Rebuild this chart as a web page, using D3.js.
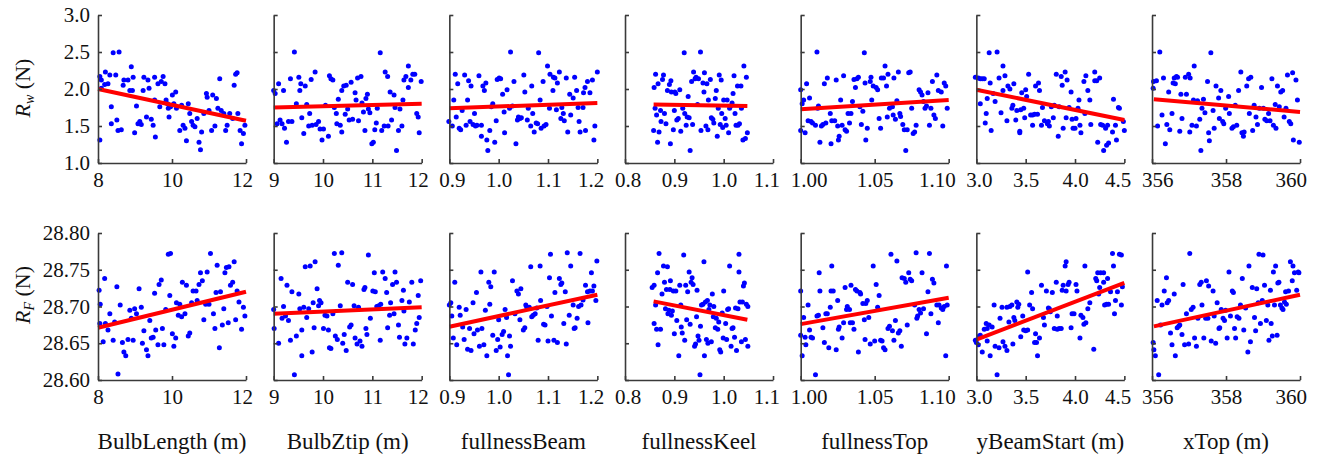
<!DOCTYPE html>
<html><head><meta charset="utf-8">
<script src="https://cdn.jsdelivr.net/npm/d3@7"></script>
<style>body{margin:0;background:#fff}svg{display:block}</style>
</head><body><svg id="chart" width="1322" height="458"></svg>
<script>
const variables = ["BulbLength (m)","BulbZtip (m)","fullnessBeam","fullnessKeel","fullnessTop","yBeamStart (m)","xTop (m)"];
const xDomains = [[8,12],[9,12],[0.9,1.2],[0.8,1.1],[1.0,1.1],[3.0,4.5],[356,360]];
const xTicks = [[8,10,12],[9,10,11,12],[0.9,1.0,1.1,1.2],[0.8,0.9,1.0,1.1],[1.00,1.05,1.10],[3.0,3.5,4.0,4.5],[356,358,360]];
const xTickFormats = ["d","d",".1f",".1f",".2f",".1f","d"];
const rwTicks = [1.0,1.5,2.0,2.5,3.0];
const rfTicks = [28.60,28.65,28.70,28.75,28.80];
const rwFitLines = [[8,2.0,12,1.57],[9,1.75,12,1.80],[0.9,1.74,1.2,1.81],[0.858,1.79,1.048,1.77],[1.0,1.725,1.1,1.85],[3.0,1.99,4.5,1.58],[356.05,1.86,360,1.69]];
const rfFitLines = [[8,28.671,12,28.72],[9,28.69,12,28.699],[0.9,28.6725,1.2,28.716],[0.858,28.707,1.048,28.682],[1.0,28.676,1.1,28.712],[3.0,28.655,4.5,28.732],[356.05,28.673,360,28.716]];

const rwBulbLength = [[8.05,2.17],[8.05,1.31],[8.09,2.12],[8.09,2.01],[8.18,2.06],[8.2,2.23],[8.27,2.07],[8.32,2.19],[8.36,1.76],[8.36,1.53],[8.41,2.49],[8.48,2.19],[8.51,1.58],[8.54,1.44],[8.57,2.5],[8.63,1.45],[8.68,2.05],[8.7,2.12],[8.81,2.12],[8.86,1.98],[8.9,2.3],[8.93,1.98],[8.95,2.16],[8.99,1.41],[9.04,1.77],[9.08,1.53],[9.13,1.56],[9.17,1.52],[9.22,1.98],[9.24,2.16],[9.31,1.62],[9.35,2.12],[9.38,2.01],[9.44,1.59],[9.49,1.51],[9.53,1.85],[9.53,2.16],[9.55,1.35],[9.62,2.07],[9.67,1.76],[9.71,2.1],[9.76,2.17],[9.81,2.07],[9.84,1.85],[9.88,1.8],[9.9,1.74],[9.92,1.62],[9.96,1.76],[10.01,1.92],[10.05,1.8],[10.1,1.96],[10.12,1.74],[10.21,1.44],[10.26,1.78],[10.3,1.51],[10.35,1.47],[10.39,1.3],[10.44,1.8],[10.48,1.67],[10.53,1.56],[10.57,1.51],[10.62,1.49],[10.68,1.6],[10.73,1.28],[10.77,1.18],[10.8,1.42],[10.86,1.67],[10.93,1.94],[10.95,1.89],[11.0,1.71],[11.07,1.44],[11.1,1.92],[11.16,1.5],[11.2,1.87],[11.24,1.74],[11.29,2.14],[11.33,1.71],[11.4,1.67],[11.45,1.44],[11.49,1.51],[11.56,1.67],[11.64,1.6],[11.68,2.05],[11.72,2.2],[11.76,2.22],[11.78,1.67],[11.84,1.44],[11.88,1.26],[11.93,1.4],[11.97,1.51]];
const rwBulbZtip = [[9.0,1.98],[9.03,1.94],[9.07,1.53],[9.1,2.07],[9.13,1.58],[9.17,1.53],[9.2,1.98],[9.22,1.47],[9.26,1.28],[9.3,1.56],[9.34,2.14],[9.37,1.56],[9.42,2.5],[9.46,1.8],[9.51,2.16],[9.53,1.98],[9.55,2.07],[9.57,1.61],[9.61,1.4],[9.64,2.04],[9.67,1.79],[9.71,1.5],[9.73,1.67],[9.76,2.13],[9.78,1.51],[9.84,2.23],[9.86,1.52],[9.91,1.56],[9.94,1.46],[9.98,1.31],[10.01,1.46],[10.05,1.78],[10.11,1.36],[10.13,2.18],[10.16,2.14],[10.2,2.12],[10.23,1.75],[10.27,1.67],[10.28,1.53],[10.31,1.86],[10.35,1.51],[10.38,1.42],[10.38,1.98],[10.42,2.04],[10.45,1.66],[10.47,2.05],[10.5,1.73],[10.53,1.58],[10.57,2.09],[10.6,1.59],[10.65,1.95],[10.67,1.85],[10.7,2.15],[10.72,1.57],[10.77,2.17],[10.79,1.81],[10.82,1.69],[10.85,1.44],[10.87,1.87],[10.9,1.93],[10.92,1.73],[10.95,1.68],[10.99,1.26],[11.02,1.28],[11.05,1.45],[11.08,1.54],[11.1,1.74],[11.16,2.49],[11.19,1.44],[11.24,1.5],[11.26,2.23],[11.31,2.17],[11.32,1.5],[11.36,1.96],[11.39,1.58],[11.44,1.92],[11.46,1.75],[11.49,1.17],[11.53,1.44],[11.56,1.73],[11.6,1.5],[11.62,1.85],[11.64,2.12],[11.68,2.17],[11.73,2.31],[11.73,2.02],[11.78,2.12],[11.82,2.2],[11.86,2.2],[11.9,1.67],[11.93,1.62],[11.95,1.41],[11.99,2.1]];
const rwFullnessBeam = [[0.899,1.56],[0.906,1.5],[0.909,1.85],[0.912,2.2],[0.914,1.62],[0.917,2.07],[0.92,1.47],[0.923,1.45],[0.926,1.71],[0.931,2.19],[0.934,1.51],[0.937,1.85],[0.939,2.11],[0.942,1.56],[0.944,2.04],[0.948,1.52],[0.951,1.67],[0.953,1.5],[0.956,1.51],[0.96,2.18],[0.965,1.51],[0.965,1.36],[0.968,2.04],[0.971,1.98],[0.974,2.08],[0.976,1.31],[0.978,1.17],[0.982,1.44],[0.985,1.76],[0.988,1.8],[0.992,1.28],[0.995,1.57],[0.997,2.13],[1.001,2.15],[1.004,2.14],[1.008,1.93],[1.011,1.69],[1.012,1.41],[1.017,1.99],[1.022,1.74],[1.024,2.5],[1.028,1.77],[1.031,2.1],[1.035,1.26],[1.038,1.58],[1.04,1.62],[1.043,1.6],[1.046,1.61],[1.051,2.19],[1.053,1.96],[1.058,1.58],[1.06,1.74],[1.065,1.5],[1.067,2.04],[1.069,1.67],[1.072,1.42],[1.076,1.54],[1.079,1.53],[1.081,2.49],[1.084,1.85],[1.086,1.47],[1.09,2.1],[1.092,1.5],[1.096,1.52],[1.099,2.31],[1.103,1.74],[1.104,2.2],[1.11,1.98],[1.111,2.16],[1.114,2.15],[1.117,1.72],[1.119,2.08],[1.123,2.23],[1.126,1.6],[1.128,1.75],[1.131,1.67],[1.133,1.57],[1.137,2.15],[1.14,1.42],[1.144,1.93],[1.146,1.65],[1.151,1.88],[1.154,2.16],[1.158,1.98],[1.161,1.75],[1.163,1.56],[1.165,1.42],[1.171,1.75],[1.172,1.95],[1.175,2.02],[1.176,1.44],[1.18,2.1],[1.185,1.95],[1.19,2.12],[1.193,1.31],[1.195,1.5],[1.2,2.23]];
const rwFullnessKeel = [[0.858,1.44],[0.859,2.02],[0.861,1.74],[0.862,2.2],[0.864,1.65],[0.866,1.28],[0.867,2.07],[0.869,1.42],[0.872,1.71],[0.873,1.56],[0.876,2.13],[0.878,2.19],[0.88,1.67],[0.883,1.53],[0.886,1.98],[0.89,2.06],[0.892,1.26],[0.893,2.11],[0.894,1.96],[0.898,1.45],[0.9,1.71],[0.901,1.96],[0.903,1.94],[0.905,1.58],[0.908,1.6],[0.911,1.99],[0.913,1.43],[0.917,1.74],[0.92,2.49],[0.921,1.67],[0.924,1.51],[0.926,1.62],[0.928,1.9],[0.93,1.61],[0.932,1.17],[0.935,2.1],[0.937,1.52],[0.939,2.23],[0.942,2.14],[0.944,2.16],[0.947,1.79],[0.949,2.14],[0.953,2.5],[0.954,1.44],[0.958,2.08],[0.96,1.96],[0.961,2.22],[0.964,1.5],[0.966,2.07],[0.968,1.45],[0.969,1.85],[0.973,2.13],[0.975,1.61],[0.978,1.59],[0.98,1.54],[0.983,1.87],[0.985,1.98],[0.987,1.36],[0.989,1.74],[0.991,2.19],[0.993,1.52],[0.995,2.12],[0.996,1.67],[0.998,1.48],[1.0,1.85],[1.003,1.6],[1.005,1.51],[1.007,1.85],[1.01,1.41],[1.012,1.74],[1.014,1.77],[1.017,1.81],[1.019,1.94],[1.021,2.18],[1.023,1.67],[1.025,1.51],[1.028,2.04],[1.029,1.51],[1.032,1.53],[1.035,2.04],[1.036,1.74],[1.039,1.31],[1.041,2.31],[1.044,1.33],[1.046,2.16],[1.048,1.41]];
const rwFullnessTop = [[1.0,1.99],[1.0,1.44],[1.001,1.8],[1.002,1.85],[1.003,1.41],[1.004,2.07],[1.005,1.57],[1.006,1.88],[1.007,1.56],[1.008,1.54],[1.01,1.51],[1.011,2.5],[1.0115,1.74],[1.012,1.77],[1.013,1.28],[1.014,1.5],[1.015,1.52],[1.016,2.07],[1.017,1.54],[1.018,2.15],[1.02,1.67],[1.0205,1.26],[1.021,1.57],[1.023,1.57],[1.024,2.12],[1.025,1.5],[1.0255,1.31],[1.026,1.36],[1.027,1.85],[1.028,1.51],[1.029,2.18],[1.03,1.45],[1.031,1.43],[1.032,1.67],[1.033,1.54],[1.034,1.67],[1.035,1.83],[1.036,2.13],[1.037,2.02],[1.038,2.14],[1.039,2.16],[1.04,1.76],[1.041,1.52],[1.042,1.7],[1.043,2.49],[1.0435,2.08],[1.044,1.31],[1.045,1.47],[1.047,2.1],[1.0475,2.16],[1.048,1.85],[1.049,2.04],[1.051,2.02],[1.052,1.99],[1.053,1.6],[1.054,1.47],[1.0545,2.15],[1.056,2.15],[1.057,2.31],[1.058,2.04],[1.0585,1.62],[1.059,2.2],[1.06,1.74],[1.062,1.76],[1.0625,1.65],[1.063,2.15],[1.064,1.59],[1.065,1.84],[1.066,2.23],[1.067,1.67],[1.0675,1.63],[1.069,1.52],[1.07,1.45],[1.071,1.17],[1.072,1.45],[1.073,2.22],[1.074,2.23],[1.075,1.74],[1.076,1.4],[1.077,1.42],[1.078,1.51],[1.08,1.99],[1.081,1.96],[1.082,1.92],[1.083,1.83],[1.084,1.74],[1.085,1.77],[1.086,1.95],[1.087,1.51],[1.088,1.74],[1.089,2.1],[1.09,1.65],[1.091,1.6],[1.092,2.19],[1.093,1.98],[1.095,1.96],[1.096,1.5],[1.097,2.08],[1.098,2.04],[1.099,1.74]];
const rwYBeamStart = [[2.99,2.16],[3.02,2.15],[3.04,1.8],[3.04,2.14],[3.06,2.14],[3.08,2.14],[3.09,1.54],[3.1,1.67],[3.11,1.87],[3.13,2.49],[3.14,2.08],[3.15,1.44],[3.17,1.94],[3.19,1.83],[3.21,2.5],[3.23,2.15],[3.25,1.68],[3.27,1.98],[3.27,2.31],[3.29,2.18],[3.31,1.57],[3.32,2.04],[3.34,2.0],[3.36,1.74],[3.37,1.78],[3.38,2.07],[3.4,1.58],[3.41,1.71],[3.44,1.41],[3.44,1.43],[3.45,1.72],[3.46,1.95],[3.48,1.74],[3.49,1.61],[3.5,1.99],[3.51,1.9],[3.53,2.2],[3.55,1.65],[3.57,1.51],[3.57,1.65],[3.59,1.66],[3.6,2.04],[3.62,1.66],[3.63,2.08],[3.64,1.98],[3.66,1.51],[3.67,1.75],[3.69,1.57],[3.72,1.53],[3.73,1.56],[3.74,1.5],[3.76,1.76],[3.78,1.61],[3.79,1.78],[3.81,2.2],[3.83,1.36],[3.84,1.76],[3.86,2.17],[3.87,2.05],[3.88,1.47],[3.9,2.23],[3.91,1.61],[3.92,2.12],[3.94,1.75],[3.96,1.96],[3.97,1.59],[3.98,1.47],[4.0,1.47],[4.01,1.6],[4.03,1.74],[4.04,1.85],[4.05,1.51],[4.06,1.41],[4.09,2.1],[4.1,1.67],[4.11,2.18],[4.13,1.98],[4.15,1.85],[4.16,1.52],[4.2,2.23],[4.2,2.11],[4.22,2.11],[4.23,1.28],[4.25,2.15],[4.26,1.52],[4.28,1.51],[4.29,1.17],[4.31,1.47],[4.32,1.24],[4.33,1.51],[4.34,1.27],[4.38,1.42],[4.39,1.86],[4.41,1.51],[4.42,1.31],[4.44,1.75],[4.45,1.74],[4.49,1.56],[4.5,1.44]];
const rwXTop = [[356.03,2.01],[356.04,2.1],[356.12,2.11],[356.15,1.5],[356.21,2.5],[356.27,1.65],[356.31,2.15],[356.36,1.26],[356.4,1.52],[356.45,1.96],[356.48,1.45],[356.54,1.67],[356.57,2.08],[356.6,2.15],[356.63,2.07],[356.66,2.17],[356.69,2.16],[356.75,1.43],[356.78,1.93],[356.81,1.6],[356.9,2.16],[356.93,1.93],[356.99,2.2],[357.02,1.42],[357.03,2.15],[357.08,1.51],[357.12,1.85],[357.14,2.31],[357.2,1.5],[357.23,1.84],[357.29,1.59],[357.32,1.17],[357.35,1.74],[357.39,1.86],[357.43,1.68],[357.5,2.1],[357.53,1.41],[357.55,1.3],[357.59,2.49],[357.65,1.71],[357.68,1.47],[357.73,2.04],[357.8,1.88],[357.82,1.6],[357.86,1.98],[357.91,1.56],[357.94,1.53],[357.99,1.74],[358.07,1.9],[358.09,1.67],[358.16,1.47],[358.2,1.49],[358.25,1.78],[358.29,1.51],[358.34,1.98],[358.4,2.23],[358.43,1.41],[358.47,1.36],[358.49,1.42],[358.56,2.04],[358.61,2.14],[358.63,1.67],[358.67,2.16],[358.72,1.44],[358.76,1.78],[358.81,1.62],[358.85,1.52],[358.9,1.74],[358.96,2.02],[359.01,1.74],[359.05,1.59],[359.1,1.57],[359.15,1.67],[359.19,1.57],[359.24,2.14],[359.28,1.51],[359.33,1.79],[359.35,1.47],[359.39,2.04],[359.44,1.76],[359.48,1.96],[359.53,1.98],[359.57,1.62],[359.62,1.74],[359.66,2.19],[359.71,1.56],[359.75,1.53],[359.8,2.22],[359.82,1.31],[359.89,2.12],[359.93,1.85],[359.98,1.28]];

const rfBulbLength = [[8.03,28.722],[8.05,28.677],[8.06,28.703],[8.14,28.652],[8.18,28.738],[8.2,28.677],[8.27,28.668],[8.32,28.69],[8.41,28.654],[8.45,28.679],[8.51,28.727],[8.54,28.608],[8.6,28.702],[8.66,28.651],[8.7,28.638],[8.75,28.633],[8.81,28.655],[8.86,28.695],[8.9,28.684],[8.95,28.654],[8.99,28.697],[9.04,28.69],[9.11,28.724],[9.17,28.699],[9.2,28.65],[9.24,28.667],[9.31,28.641],[9.35,28.633],[9.4,28.681],[9.44,28.657],[9.49,28.658],[9.53,28.718],[9.56,28.668],[9.62,28.648],[9.65,28.73],[9.71,28.736],[9.74,28.67],[9.78,28.648],[9.83,28.696],[9.9,28.771],[9.94,28.715],[9.96,28.772],[10.01,28.663],[10.05,28.646],[10.1,28.657],[10.12,28.705],[10.17,28.688],[10.21,28.703],[10.26,28.686],[10.28,28.733],[10.35,28.69],[10.39,28.729],[10.44,28.66],[10.48,28.664],[10.53,28.705],[10.57,28.721],[10.65,28.721],[10.68,28.708],[10.73,28.73],[10.77,28.746],[10.82,28.735],[10.86,28.682],[10.91,28.703],[10.95,28.747],[11.0,28.703],[11.04,28.772],[11.12,28.69],[11.16,28.67],[11.19,28.719],[11.22,28.756],[11.28,28.644],[11.31,28.72],[11.36,28.675],[11.4,28.697],[11.43,28.746],[11.47,28.753],[11.52,28.678],[11.54,28.754],[11.58,28.729],[11.64,28.733],[11.68,28.761],[11.72,28.682],[11.76,28.721],[11.81,28.706],[11.88,28.669],[11.93,28.699],[11.97,28.687]];
const rfBulbZtip = [[9.0,28.696],[9.01,28.67],[9.1,28.65],[9.15,28.738],[9.17,28.684],[9.2,28.7],[9.24,28.687],[9.27,28.729],[9.3,28.681],[9.34,28.654],[9.37,28.72],[9.42,28.607],[9.46,28.66],[9.51,28.717],[9.53,28.697],[9.57,28.633],[9.57,28.668],[9.61,28.699],[9.64,28.754],[9.67,28.685],[9.71,28.697],[9.74,28.755],[9.78,28.638],[9.8,28.705],[9.82,28.671],[9.84,28.761],[9.88,28.724],[9.91,28.701],[9.93,28.708],[9.96,28.705],[10.01,28.67],[10.04,28.688],[10.08,28.687],[10.11,28.668],[10.13,28.644],[10.16,28.643],[10.2,28.69],[10.23,28.772],[10.25,28.66],[10.29,28.655],[10.31,28.756],[10.35,28.701],[10.38,28.773],[10.4,28.65],[10.43,28.662],[10.47,28.64],[10.5,28.733],[10.54,28.672],[10.57,28.675],[10.6,28.73],[10.63,28.701],[10.65,28.657],[10.69,28.649],[10.72,28.699],[10.75,28.653],[10.79,28.646],[10.83,28.723],[10.85,28.726],[10.87,28.67],[10.89,28.662],[10.92,28.77],[10.96,28.684],[11.01,28.721],[11.04,28.746],[11.06,28.72],[11.09,28.7],[11.13,28.701],[11.16,28.654],[11.17,28.703],[11.21,28.747],[11.26,28.738],[11.29,28.719],[11.31,28.671],[11.35,28.688],[11.37,28.705],[11.41,28.73],[11.44,28.69],[11.46,28.747],[11.49,28.733],[11.53,28.675],[11.55,28.658],[11.6,28.708],[11.63,28.722],[11.64,28.694],[11.66,28.649],[11.7,28.657],[11.75,28.706],[11.8,28.733],[11.83,28.649],[11.87,28.668],[11.9,28.677],[11.93,28.715],[11.95,28.685],[11.98,28.735]];
const rfFullnessBeam = [[0.9,28.702],[0.903,28.705],[0.905,28.687],[0.908,28.657],[0.911,28.733],[0.915,28.648],[0.92,28.699],[0.922,28.688],[0.927,28.672],[0.93,28.655],[0.934,28.696],[0.937,28.642],[0.941,28.67],[0.944,28.64],[0.948,28.705],[0.95,28.663],[0.955,28.719],[0.957,28.668],[0.961,28.646],[0.964,28.747],[0.966,28.67],[0.97,28.648],[0.973,28.695],[0.976,28.633],[0.98,28.733],[0.982,28.703],[0.984,28.727],[0.988,28.661],[0.991,28.747],[0.995,28.64],[0.998,28.655],[1.0,28.682],[1.003,28.645],[1.007,28.662],[1.01,28.666],[1.013,28.696],[1.016,28.685],[1.018,28.633],[1.02,28.607],[1.022,28.66],[1.024,28.646],[1.028,28.735],[1.033,28.69],[1.037,28.721],[1.04,28.717],[1.043,28.682],[1.045,28.724],[1.05,28.668],[1.053,28.671],[1.055,28.702],[1.057,28.699],[1.062,28.699],[1.065,28.754],[1.067,28.686],[1.07,28.688],[1.074,28.69],[1.077,28.698],[1.08,28.654],[1.084,28.755],[1.085,28.708],[1.091,28.676],[1.094,28.675],[1.098,28.7],[1.1,28.653],[1.103,28.739],[1.105,28.771],[1.107,28.687],[1.112,28.654],[1.114,28.719],[1.119,28.651],[1.123,28.738],[1.126,28.73],[1.128,28.732],[1.132,28.677],[1.135,28.72],[1.137,28.649],[1.139,28.773],[1.143,28.688],[1.146,28.755],[1.151,28.702],[1.153,28.67],[1.155,28.671],[1.159,28.684],[1.162,28.7],[1.165,28.772],[1.167,28.702],[1.171,28.709],[1.176,28.729],[1.18,28.72],[1.181,28.678],[1.185,28.721],[1.188,28.746],[1.19,28.721],[1.193,28.728],[1.197,28.708],[1.199,28.762]];
const rfFullnessKeel = [[0.855,28.726],[0.859,28.729],[0.859,28.677],[0.862,28.702],[0.864,28.669],[0.866,28.746],[0.867,28.648],[0.869,28.772],[0.872,28.669],[0.875,28.717],[0.878,28.755],[0.88,28.733],[0.882,28.697],[0.884,28.723],[0.886,28.754],[0.887,28.69],[0.889,28.695],[0.891,28.723],[0.892,28.735],[0.894,28.688],[0.896,28.694],[0.898,28.721],[0.9,28.663],[0.903,28.721],[0.905,28.681],[0.909,28.633],[0.911,28.729],[0.913,28.702],[0.914,28.672],[0.916,28.664],[0.919,28.77],[0.921,28.654],[0.923,28.729],[0.925,28.682],[0.927,28.72],[0.93,28.747],[0.932,28.676],[0.934,28.733],[0.936,28.739],[0.938,28.73],[0.941,28.646],[0.943,28.649],[0.945,28.686],[0.946,28.722],[0.948,28.66],[0.95,28.654],[0.952,28.607],[0.953,28.673],[0.955,28.702],[0.958,28.703],[0.96,28.761],[0.961,28.633],[0.963,28.706],[0.965,28.655],[0.967,28.708],[0.968,28.65],[0.97,28.696],[0.972,28.702],[0.975,28.652],[0.977,28.717],[0.979,28.686],[0.98,28.7],[0.983,28.671],[0.985,28.684],[0.988,28.669],[0.99,28.679],[0.992,28.641],[0.994,28.638],[0.997,28.691],[0.999,28.657],[1.0,28.721],[1.004,28.677],[1.006,28.655],[1.008,28.696],[1.01,28.697],[1.012,28.755],[1.015,28.646],[1.017,28.67],[1.019,28.671],[1.022,28.658],[1.024,28.698],[1.026,28.64],[1.029,28.697],[1.031,28.747],[1.031,28.771],[1.033,28.706],[1.036,28.652],[1.038,28.706],[1.04,28.728],[1.042,28.732],[1.044,28.655],[1.046,28.703],[1.049,28.646],[1.049,28.7]];
const rfFullnessTop = [[1.0,28.721],[1.0,28.661],[1.001,28.633],[1.002,28.685],[1.003,28.658],[1.0035,28.648],[1.005,28.702],[1.006,28.668],[1.007,28.658],[1.008,28.657],[1.01,28.607],[1.011,28.687],[1.012,28.688],[1.0125,28.746],[1.013,28.721],[1.015,28.671],[1.016,28.651],[1.017,28.69],[1.018,28.69],[1.019,28.644],[1.02,28.699],[1.0205,28.721],[1.021,28.755],[1.022,28.721],[1.024,28.641],[1.025,28.708],[1.0255,28.669],[1.026,28.672],[1.028,28.657],[1.029,28.678],[1.03,28.726],[1.031,28.696],[1.0315,28.7],[1.033,28.696],[1.0335,28.678],[1.034,28.729],[1.035,28.678],[1.036,28.669],[1.037,28.723],[1.038,28.721],[1.039,28.638],[1.04,28.719],[1.0405,28.717],[1.042,28.704],[1.043,28.682],[1.0435,28.655],[1.044,28.704],[1.045,28.708],[1.046,28.685],[1.047,28.649],[1.049,28.755],[1.05,28.653],[1.051,28.73],[1.052,28.699],[1.053,28.715],[1.054,28.654],[1.055,28.653],[1.056,28.644],[1.057,28.641],[1.059,28.67],[1.06,28.673],[1.061,28.771],[1.062,28.667],[1.063,28.654],[1.064,28.681],[1.065,28.762],[1.066,28.664],[1.067,28.667],[1.068,28.646],[1.0685,28.739],[1.07,28.738],[1.071,28.733],[1.072,28.675],[1.073,28.746],[1.074,28.737],[1.075,28.735],[1.077,28.702],[1.078,28.773],[1.0785,28.684],[1.079,28.687],[1.08,28.696],[1.081,28.691],[1.082,28.746],[1.083,28.697],[1.085,28.663],[1.086,28.72],[1.087,28.772],[1.088,28.69],[1.089,28.737],[1.09,28.732],[1.092,28.702],[1.093,28.678],[1.0935,28.702],[1.095,28.698],[1.096,28.696],[1.097,28.7],[1.098,28.633],[1.0985,28.755],[1.099,28.702]];
const rfYBeamStart = [[2.99,28.654],[3.0,28.651],[3.02,28.648],[3.03,28.66],[3.04,28.661],[3.06,28.638],[3.08,28.669],[3.1,28.677],[3.11,28.67],[3.11,28.653],[3.13,28.675],[3.14,28.633],[3.16,28.672],[3.18,28.702],[3.19,28.646],[3.21,28.607],[3.23,28.644],[3.24,28.684],[3.26,28.699],[3.27,28.652],[3.29,28.646],[3.31,28.699],[3.31,28.64],[3.33,28.679],[3.34,28.7],[3.36,28.702],[3.37,28.649],[3.38,28.685],[3.39,28.681],[3.41,28.706],[3.42,28.699],[3.43,28.703],[3.45,28.659],[3.47,28.687],[3.48,28.668],[3.5,28.667],[3.52,28.668],[3.52,28.747],[3.54,28.702],[3.56,28.719],[3.57,28.697],[3.59,28.651],[3.6,28.663],[3.61,28.651],[3.62,28.633],[3.64,28.657],[3.66,28.729],[3.68,28.685],[3.69,28.675],[3.71,28.721],[3.73,28.698],[3.74,28.697],[3.75,28.693],[3.77,28.719],[3.79,28.67],[3.81,28.733],[3.82,28.687],[3.82,28.669],[3.84,28.67],[3.86,28.67],[3.87,28.722],[3.88,28.729],[3.9,28.755],[3.91,28.761],[3.91,28.721],[3.93,28.73],[3.94,28.733],[3.96,28.671],[3.97,28.69],[3.99,28.69],[4.01,28.73],[4.02,28.721],[4.05,28.657],[4.06,28.688],[4.08,28.685],[4.09,28.676],[4.1,28.755],[4.11,28.678],[4.13,28.697],[4.15,28.705],[4.19,28.642],[4.21,28.738],[4.22,28.735],[4.23,28.746],[4.24,28.717],[4.25,28.726],[4.26,28.746],[4.29,28.746],[4.29,28.733],[4.3,28.702],[4.32,28.703],[4.33,28.738],[4.34,28.703],[4.36,28.72],[4.38,28.772],[4.39,28.755],[4.4,28.69],[4.41,28.708],[4.43,28.72],[4.45,28.771],[4.47,28.77],[4.47,28.702],[4.48,28.727]];
const rfXTop = [[356.03,28.651],[356.05,28.641],[356.09,28.633],[356.14,28.708],[356.18,28.607],[356.23,28.675],[356.27,28.702],[356.33,28.721],[356.39,28.739],[356.41,28.705],[356.45,28.708],[356.5,28.664],[356.54,28.648],[356.6,28.717],[356.63,28.633],[356.68,28.671],[356.72,28.673],[356.75,28.675],[356.81,28.662],[356.84,28.73],[356.88,28.648],[356.93,28.69],[356.99,28.649],[357.02,28.772],[357.06,28.696],[357.11,28.699],[357.15,28.657],[357.2,28.646],[357.24,28.684],[357.29,28.73],[357.33,28.733],[357.35,28.702],[357.4,28.657],[357.45,28.684],[357.47,28.735],[357.51,28.684],[357.53,28.728],[357.6,28.653],[357.65,28.721],[357.68,28.687],[357.72,28.65],[357.76,28.705],[357.81,28.67],[357.83,28.671],[357.87,28.696],[357.92,28.684],[357.96,28.681],[357.99,28.695],[358.03,28.657],[358.08,28.747],[358.12,28.687],[358.17,28.721],[358.2,28.719],[358.23,28.67],[358.26,28.657],[358.3,28.686],[358.35,28.684],[358.39,28.702],[358.44,28.738],[358.48,28.668],[358.53,28.698],[358.59,28.638],[358.62,28.755],[358.66,28.652],[358.71,28.726],[358.77,28.685],[358.8,28.667],[358.83,28.724],[358.87,28.705],[358.89,28.771],[358.93,28.677],[358.98,28.708],[359.0,28.77],[359.04,28.729],[359.09,28.681],[359.13,28.702],[359.16,28.654],[359.2,28.722],[359.22,28.677],[359.25,28.66],[359.28,28.747],[359.31,28.702],[359.34,28.755],[359.38,28.661],[359.4,28.732],[359.43,28.733],[359.47,28.702],[359.51,28.698],[359.54,28.696],[359.58,28.706],[359.61,28.72],[359.63,28.703],[359.69,28.721],[359.74,28.761],[359.79,28.735],[359.81,28.755],[359.85,28.746],[359.91,28.722],[359.95,28.747],[359.97,28.746]];

const rwData = [rwBulbLength,rwBulbZtip,rwFullnessBeam,rwFullnessKeel,rwFullnessTop,rwYBeamStart,rwXTop];
const rfData = [rfBulbLength,rfBulbZtip,rfFullnessBeam,rfFullnessKeel,rfFullnessTop,rfYBeamStart,rfXTop];

const FONT = "'Liberation Serif','Times New Roman',serif";
const svg = d3.select("#chart");
const panelLeft0 = 98, panelStep = 175.67, panelW = 148;
const rows = [
  {top:15, bottom:163, domain:[1.0,3.0], ticks:rwTicks, fmt:".1f", data:rwData, fits:rwFitLines, sub:"w", labelY:88},
  {top:233, bottom:380, domain:[28.60,28.80], ticks:rfTicks, fmt:".2f", data:rfData, fits:rfFitLines, sub:"F", labelY:295}
];

function styleAxis(g){
  g.selectAll(".domain").attr("stroke","#3a3a3a").attr("stroke-width",1.6);
  g.selectAll(".tick line").attr("stroke","#3a3a3a").attr("stroke-width",1.6);
  g.selectAll(".tick text").attr("fill","#111").style("font-family",FONT).style("font-size","21px");
}

rows.forEach((row, r) => {
  const y = d3.scaleLinear().domain(row.domain).range([row.bottom,row.top]);
  variables.forEach((v, i) => {
    const left = panelLeft0 + i*panelStep;
    const x = d3.scaleLinear().domain(xDomains[i]).range([0,panelW]);
    const g = svg.append("g").attr("transform",`translate(${left},0)`);
    g.append("g").selectAll("circle").data(row.data[i]).join("circle")
      .attr("cx",d=>x(d[0])).attr("cy",d=>y(d[1])).attr("r",2.5).attr("fill","#0000ff");
    const f = row.fits[i];
    g.append("line").attr("x1",x(f[0])).attr("y1",y(f[1])).attr("x2",x(f[2])).attr("y2",y(f[3]))
      .attr("stroke","#ff0000").attr("stroke-width",4);
    const ya = g.append("g").call(d3.axisLeft(y).tickValues(row.ticks).tickSizeInner(-4).tickSizeOuter(0).tickPadding(8)
      .tickFormat(i===0 ? d3.format(row.fmt) : ()=>""));
    styleAxis(ya);
    const xa = g.append("g").attr("transform",`translate(0,${row.bottom})`)
      .call(d3.axisBottom(x).tickValues(xTicks[i]).tickSizeInner(-4).tickSizeOuter(0).tickPadding(9)
      .tickFormat(d3.format(xTickFormats[i])));
    styleAxis(xa);
    // keep end labels tucked toward the panel, as in the reference
    xa.selectAll(".tick").each(function(){
      const tk = d3.select(this);
      const tx = +tk.attr("transform").match(/translate\(([-\d.]+)/)[1];
      const txt = tk.select("text");
      const w = txt.node().getComputedTextLength();
      const l = tx - w/2, rr = tx + w/2;
      let dx = 0;
      if (l < -10) dx = -10 - l;
      if (rr > panelW + 7) dx = panelW + 7 - rr;
      txt.attr("dx", dx);
    });
    if (r === 1) {
      svg.append("text").attr("x", left + panelW/2).attr("y", 449).attr("text-anchor","middle")
        .style("font-family",FONT).style("font-size","23px").attr("fill","#111").text(v);
    }
  });
  const t = svg.append("text").attr("transform",`translate(30,${row.labelY}) rotate(-90)`).attr("text-anchor","middle")
    .style("font-family",FONT).style("font-size","22px").attr("fill","#111");
  t.append("tspan").style("font-style","italic").text("R");
  t.append("tspan").style("font-style","italic").style("font-size","14px").attr("dy",4).text(row.sub);
  t.append("tspan").attr("dy",-4).text(" (N)");
});
</script></body></html>
